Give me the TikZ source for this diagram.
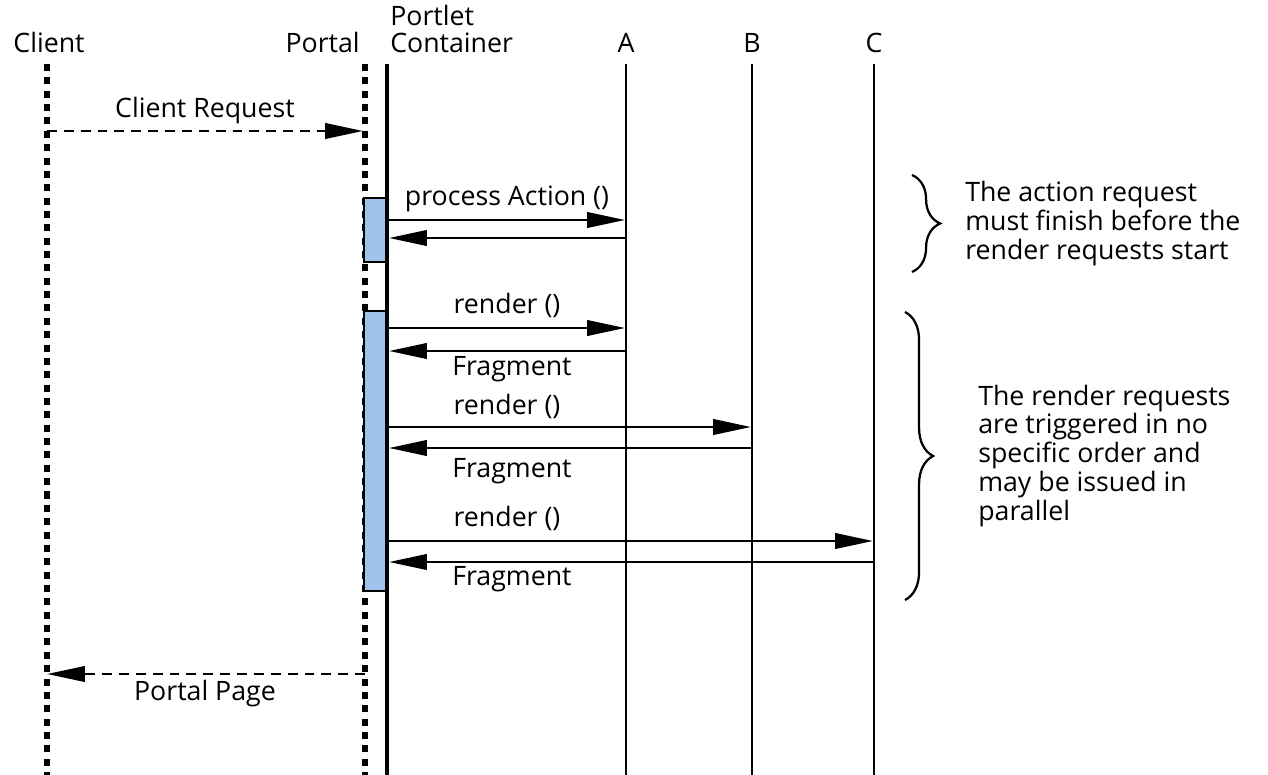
\documentclass[tikz,border=0pt]{standalone}
\usepackage{fontspec}
\setmainfont{Open Sans}
\usepackage{tikz}
\usetikzlibrary{arrows.meta,decorations.pathreplacing,positioning}
\definecolor{actblue}{RGB}{158,196,238}

\begin{document}
\begin{tikzpicture}[
        x=0.025cm, y=-0.025cm,
        font=\fontsize{19}{20.6}\selectfont,
        head/.style={
            inner sep=0pt,
            anchor=base
        },
        dotline/.style={
            line width=4.4pt,
            dash pattern=on 5pt off 4.5pt
        },
        ctrline/.style={
            line width=3pt
        },
        objline/.style={
            line width=2.1pt
        },
        msg/.style={
            line width=1.8pt,
            -{Triangle[length=27pt,width=11pt]}
        },
        async/.style={
            msg,
            dash pattern=on 7pt off 5pt
        },
        actbox/.style={
            draw,
            line width=1.5pt,
            fill=actblue
        },
        lbl/.style={
            inner sep=0pt,
            anchor=base
        },
        note/.style={
            inner sep=0pt,
            anchor=west,
            align=left
        },
        curly/.style={
            line width=1.6pt,
            decorate,
            decoration={brace, amplitude=20pt}
        }
    ]
    \useasboundingbox (0,0) rectangle (1268,775);

    % Lifeline heads
    \node[head] (client) at (49,53) {Client};
    \node[head, anchor=base east] (portal) at (360,53) {Portal};
    \node[head, anchor=base west, align=left] (container) at (390,53) {Container};
    \node[head, anchor=base west] (portlet) at (390,26) {Portlet};
    \node[head] (a) at (626,53) {A};
    \node[head] (b) at (752,53) {B};
    \node[head] (c) at (874,53) {C};

    % Lifelines
    \coordinate (clientT) at (47,64);   \coordinate (clientB) at (47,775);
    \coordinate (portalT) at (365,64);  \coordinate (portalB) at (365,775);
    \coordinate (contT) at (387,64);    \coordinate (contB) at (387,775);
    \coordinate (aT) at (626,64);       \coordinate (aB) at (626,775);
    \coordinate (bT) at (752,64);       \coordinate (bB) at (752,775);
    \coordinate (cT) at (874,64);       \coordinate (cB) at (874,775);

    \draw[dotline] (clientT) -- (clientB);
    \draw[dotline] (portalT) -- (portalB);

    % Activation bars
    \node[actbox, minimum width=0.55cm, minimum height=1.6cm, inner sep=0pt] (act1) at (375,230) {};
    \node[actbox, minimum width=0.55cm, minimum height=7cm, inner sep=0pt] (act2) at (375,451) {};

    \draw[ctrline] (contT) -- (contB);
    \draw[objline] (aT) -- (aB);
    \draw[objline] (bT) -- (bB);
    \draw[objline] (cT) -- (cB);

    % Client request and portal page
    \coordinate (req1) at (47,131);  \coordinate (req2) at (363,131);
    \coordinate (page1) at (365,674); \coordinate (page2) at (47,674);
    \draw[async] (req1) -- (req2);
    \node[lbl] (reqlbl) at (205,117) {Client Request};
    \draw[async] (page1) -- (page2);
    \node[lbl] (pagelbl) at (205,700) {Portal Page};

    % Action request
    \coordinate (pa1) at (389,220); \coordinate (pa2) at (625,220);
    \coordinate (ra1) at (626,238); \coordinate (ra2) at (389,238);
    \draw[msg] (pa1) -- (pa2);
    \draw[msg] (ra1) -- (ra2);
    \node[lbl] (palbl) at (507,205) {process Action ()};

    % Render requests
    \coordinate (r1s) at (389,328); \coordinate (r1e) at (625,328);
    \coordinate (f1s) at (626,351); \coordinate (f1e) at (389,351);
    \coordinate (r2s) at (389,427); \coordinate (r2e) at (751,427);
    \coordinate (f2s) at (752,448); \coordinate (f2e) at (389,448);
    \coordinate (r3s) at (389,541); \coordinate (r3e) at (873,541);
    \coordinate (f3s) at (874,562); \coordinate (f3e) at (389,562);
    \draw[msg] (r1s) -- (r1e);
    \draw[msg] (f1s) -- (f1e);
    \draw[msg] (r2s) -- (r2e);
    \draw[msg] (f2s) -- (f2e);
    \draw[msg] (r3s) -- (r3e);
    \draw[msg] (f3s) -- (f3e);
    \node[lbl] (r1lbl) at (507,313) {render ()};
    \node[lbl] (f1lbl) at (512,375) {Fragment};
    \node[lbl] (r2lbl) at (507,414) {render ()};
    \node[lbl] (f2lbl) at (512,477) {Fragment};
    \node[lbl] (r3lbl) at (507,526) {render ()};
    \node[lbl] (f3lbl) at (512,585) {Fragment};

    % Braces and notes
    \coordinate (br1T) at (912,175); \coordinate (br1B) at (912,272);
    \coordinate (br2T) at (905,312); \coordinate (br2B) at (905,600);
    \draw[curly] (br1T) -- (br1B);
    \draw[curly] (br2T) -- (br2B);
    \node[note] (note1) at (965,224) {The action request\\must finish before the\\render requests start};
    \node[note] (note2) at (978,456) {The render requests\\are triggered in no\\specific order and\\may be issued in\\parallel};

\end{tikzpicture}
\end{document}
